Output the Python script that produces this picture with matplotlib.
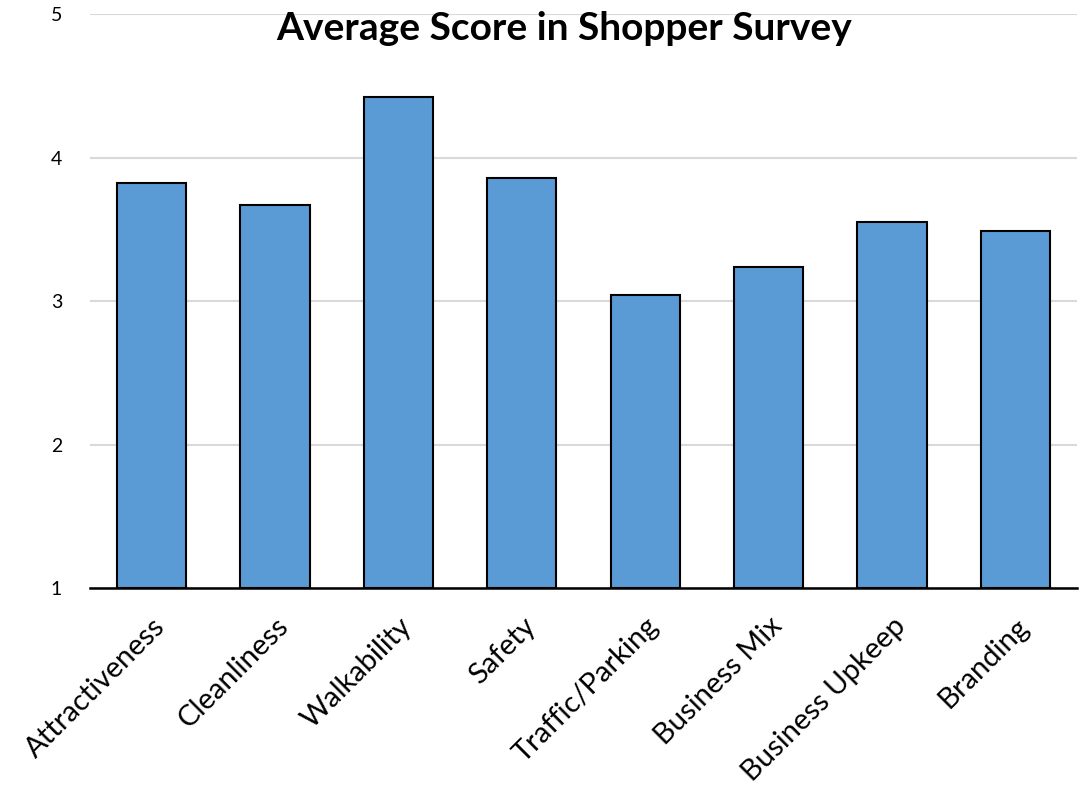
import matplotlib.pyplot as plt
import numpy as np

plt.rcParams['font.family'] = ['Lato', 'DejaVu Sans']

categories = ['Attractiveness', 'Cleanliness', 'Walkability', 'Safety',
              'Traffic/Parking', 'Business Mix', 'Business Upkeep', 'Branding']
scores = [3.82, 3.67, 4.42, 3.86, 3.04, 3.24, 3.55, 3.49]
y_ticks = [1, 2, 3, 4, 5]

fig = plt.figure(figsize=(10.8, 7.85), dpi=100)
ax = fig.add_axes([0.0833, 0.251, 0.914, 0.731])

x = np.arange(len(categories))
ax.bar(x, np.array(scores) - 1, bottom=1, width=0.56, color='#5b9bd5',
       edgecolor='black', linewidth=1.5, zorder=3)

ax.set_xlim(-0.5, len(categories) - 0.5)
ax.set_ylim(1, 5)
ax.set_yticks(y_ticks)
ax.tick_params(axis='y', length=0, pad=20, labelsize=14)
ax.tick_params(axis='x', length=0, pad=18)
ax.set_xticks(x)
ax.set_xticklabels(categories, rotation=45, ha='right', rotation_mode='anchor',
                   fontsize=21)
ax.grid(axis='y', color='#d9d9d9', linewidth=1.5, zorder=0)

for side in ['top', 'right', 'left']:
    ax.spines[side].set_visible(False)
ax.spines['bottom'].set_linewidth(1.8)
ax.spines['bottom'].set_zorder(4)

fig.text(0.522, 0.964, 'Average Score in Shopper Survey', ha='center',
         va='center', fontsize=28, fontweight='bold')

fig.savefig('out.png', dpi=100)
